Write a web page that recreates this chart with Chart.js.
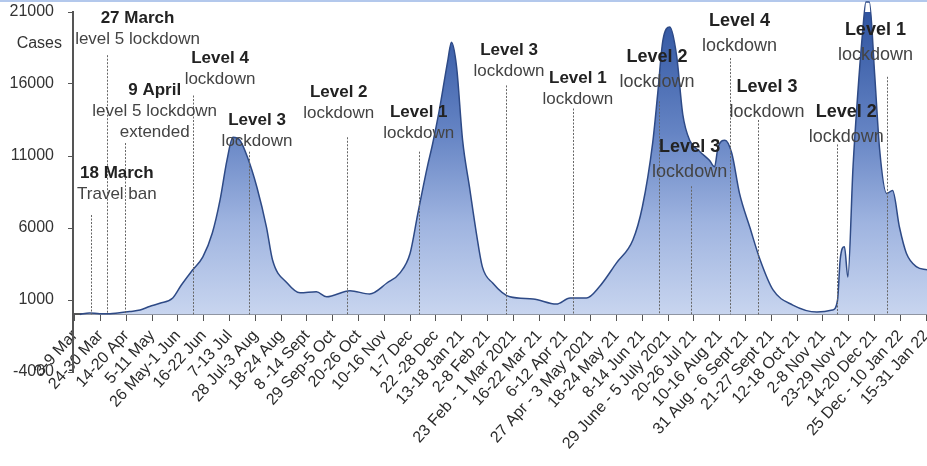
<!DOCTYPE html>
<html>
<head>
<meta charset="utf-8">
<script src="https://cdn.jsdelivr.net/npm/chart.js@4.4.1/dist/chart.umd.min.js"></script>
<style>
  body { margin: 0; background: #fff; }
  #wrap { width: 927px; height: 466px; position: relative; }
</style>
</head>
<body>
<div id="wrap"><canvas id="plot-data"></canvas></div>
<script>
// weeks since 9 Mar 2020, and daily cases
const weeks = [0.6, 1.7, 2.9, 4.1, 5.0, 6.4, 7.6, 8.7, 9.9, 11.4, 12.4, 13.7, 14.9, 16.0, 16.9, 17.7, 18.4, 19.2, 20.1, 21.2,
    22.3, 23.0, 24.7, 26.2, 28.1, 29.3, 32.0, 34.3, 36.3, 37.8, 39.0, 39.9, 41.0, 41.6, 42.4, 43.4, 43.8, 44.4, 45.1, 45.9,
    46.7, 47.4, 48.6, 50.6, 53.3, 56.0, 57.6, 59.5, 61.0, 63.0, 64.9, 66.0, 67.2, 67.8, 68.4, 69.2, 70.0, 70.7, 71.5, 72.7,
    73.8, 74.4, 74.8, 75.6, 76.4, 77.3, 78.5, 79.7, 81.2, 83.5, 86.3, 88.1, 88.7, 89.0, 89.5, 89.9, 90.5, 91.0, 91.6, 92.0,
    92.4, 93.0, 93.6, 94.4, 95.1, 95.9, 96.7, 97.9, 99.1]
const cases = [0, 100, 50, 50, 100, 200, 300, 550, 770, 1140, 2040, 3080, 4000, 5650, 7950, 10700, 12300, 12100, 10900, 8800,
    6050, 3780, 2180, 1500, 1570, 1220, 1640, 1420, 2180, 2870, 4250, 7020, 10250, 11800, 14200, 17700, 18900, 17200, 12100, 8850,
    5650, 3300, 2180, 1220, 1070, 720, 1140, 1140, 1920, 3580, 5170, 7460, 11900, 15400, 19060, 19950, 17900, 13900, 12100, 11300,
    10700, 10250, 11600, 12100, 11200, 8400, 6050, 3780, 1700, 650, 170, 300, 1000, 3780, 4700, 2600, 10250, 14900, 19500, 21700,
    21700, 16800, 11400, 8400, 8600, 6050, 4250, 3300, 3100]

const xLabels = ['3-9 Mar', '24-30 Mar', '14-20 Apr', '5-11 May', '26 May-1 Jun', '16-22 Jun', '7-13 Jul', '28 Jul-3 Aug',
    '18-24 Aug', '8 -14 Sept', '29 Sep-5 Oct', '20-26 Oct', '10-16 Nov', '1-7 Dec', '22 -28 Dec', '13-18 Jan 21', '2-8 Feb 21',
    '23 Feb - 1 Mar 2021', '16-22 Mar 21', '6-12 Apr 21', '27 Apr - 3 May 2021', '18-24 May 21', '8-14 Jun 21',
    '29 June - 5 July 2021', '20-26 Jul 21', '10-16 Aug 21', '31 Aug - 6 Sept 21', '21-27 Sept 21', '12-18 Oct 21',
    '2-8 Nov 21', '23-29 Nov 21', '14-20 Dec 21', '25 Dec - 10 Jan 22', '15-31 Jan 22']
const xTickWeeks = xLabels.map((l, i) => i * 3)
const yTicks = [-4000, 1000, 6000, 11000, 16000, 21000]

// dotted event lines: week and how high they reach
const eventWeeks = [1.9, 3.7, 5.8, 13.7, 20.3, 31.7, 40.0, 50.2, 57.9, 67.9, 71.7, 76.2, 79.4, 88.6, 94.4]
const eventTops = [6900, 18000, 11900, 15200, 11300, 12300, 11300, 15900, 14300, 14800, 8900, 17800, 13500, 11800, 16500]

// notes
const noteTitles = ['18 March', '27 March', '9 April', 'Level 4', 'Level 3', 'Level 2', 'Level 1', 'Level 3', 'Level 1',
    'Level 2', 'Level 3', 'Level 4', 'Level 3', 'Level 2', 'Level 1']
const noteTexts = [['Travel ban'], ['level 5 lockdown'], ['level 5 lockdown', 'extended'], ['lockdown'], ['lockdown'],
    ['lockdown'], ['lockdown'], ['lockdown'], ['lockdown'], ['lockdown'], ['lockdown'], ['lockdown'], ['lockdown'],
    ['lockdown'], ['lockdown']]
const noteWeeks = [4.9, 7.3, 9.3, 16.9, 21.2, 30.7, 40.0, 50.5, 58.5, 67.7, 71.5, 77.3, 80.5, 89.7, 93.1]
const noteLevels = [9820, 20580, 15580, 17750, 13500, 15440, 14050, 18360, 16420, 17880, 11600, 20400, 15790, 14050, 19750]

const FONT = 'Arial, "Liberation Sans", sans-serif'

const notesPlugin = {
    id: 'notes',
    beforeDraw(chart) {
        const ctx = chart.ctx
        ctx.save()
        ctx.strokeStyle = '#b3c8ec'
        ctx.lineWidth = 2
        ctx.beginPath()
        ctx.moveTo(0, 1)
        ctx.lineTo(chart.width, 1)
        ctx.stroke()
        ctx.restore()
    },
    afterDatasetsDraw(chart) {
        const ctx = chart.ctx
        const x = chart.scales.x
        const y = chart.scales.y
        ctx.save()
        ctx.strokeStyle = '#666'
        ctx.lineWidth = 1
        ctx.setLineDash([2, 1.5])
        for (let i = 0; i < eventWeeks.length; i++) {
            const px = Math.round(x.getPixelForValue(eventWeeks[i])) + 0.5
            ctx.beginPath()
            ctx.moveTo(px, y.getPixelForValue(eventTops[i]))
            ctx.lineTo(px, y.getPixelForValue(0))
            ctx.stroke()
        }
        ctx.setLineDash([])
        ctx.textAlign = 'center'
        ctx.textBaseline = 'middle'
        for (let i = 0; i < noteWeeks.length; i++) {
            const px = x.getPixelForValue(noteWeeks[i])
            const py = y.getPixelForValue(noteLevels[i])
            const right = noteWeeks[i] > 65
            const size = right ? 18 : 17
            const gap = right ? 25 : 21
            ctx.font = 'bold ' + size + 'px ' + FONT
            ctx.fillStyle = '#222'
            ctx.fillText(noteTitles[i], px, py)
            ctx.font = size + 'px ' + FONT
            ctx.fillStyle = '#444'
            noteTexts[i].forEach((t, j) => ctx.fillText(t, px, py + gap * (j + 1)))
        }
        ctx.font = '16px ' + FONT
        ctx.fillStyle = '#333'
        ctx.textAlign = 'right'
        ctx.fillText('Cases', 62, 44)
        ctx.restore()
    }
}

const plotD = weeks.map((w, i) => ({ x: w, y: cases[i] }))

var ctx = document.getElementById('plot-data').getContext('2d')
var graph = new Chart(ctx, {
    type: 'line',
    data: {
        datasets: [{
            data: plotD,
            borderColor: '#2e4a86',
            borderWidth: 1.5,
            radius: 0,
            cubicInterpolationMode: 'monotone',
            fill: 'origin',
            clip: false,
            backgroundColor: function(context) {
                const chart = context.chart
                if (!chart.chartArea) return '#8ea7d8'
                const y = chart.scales.y
                const g = chart.ctx.createLinearGradient(0, y.getPixelForValue(21000), 0, y.getPixelForValue(0))
                g.addColorStop(0, '#2f54a0')
                g.addColorStop(0.4, '#6584c4')
                g.addColorStop(0.7, '#9fb4e0')
                g.addColorStop(1, '#c8d5ef')
                return g
            }
        }]
    },
    options: {
        responsive: true,
        maintainAspectRatio: false,
        animation: false,
        layout: { padding: { top: 12, bottom: 94, left: 0, right: 0 } },
        plugins: { legend: false, tooltip: { enabled: false } },
        scales: {
            x: {
                type: 'linear',
                position: { y: 0 },
                min: -0.2,
                max: 99.1,
                afterBuildTicks(scale) {
                    scale.ticks = xTickWeeks.map(v => ({ value: v }))
                },
                afterFit(scale) {
                    scale.paddingLeft = 0
                    scale.paddingRight = 0
                },
                ticks: {
                    autoSkip: false,
                    minRotation: 48,
                    maxRotation: 48,
                    padding: 6,
                    color: '#2a2a2a',
                    font: { family: FONT, size: 16 },
                    callback: (v) => xLabels[Math.round(v / 3)]
                },
                grid: { drawOnChartArea: false, tickLength: 6, color: '#555' },
                border: { color: '#555', width: 2 }
            },
            y: {
                min: -4000,
                max: 21000,
                afterBuildTicks(scale) {
                    scale.ticks = yTicks.map(v => ({ value: v }))
                },
                afterFit(scale) {
                    scale.width = 73
                    scale.paddingTop = 0
                    scale.paddingBottom = 0
                },
                ticks: {
                    padding: 14,
                    color: '#333',
                    font: { family: FONT, size: 16 },
                    callback: (v) => String(v)
                },
                grid: { drawOnChartArea: false, tickLength: 5, color: '#555' },
                border: { color: '#555', width: 2 }
            }
        }
    },
    plugins: [notesPlugin]
})
</script>
</body>
</html>
